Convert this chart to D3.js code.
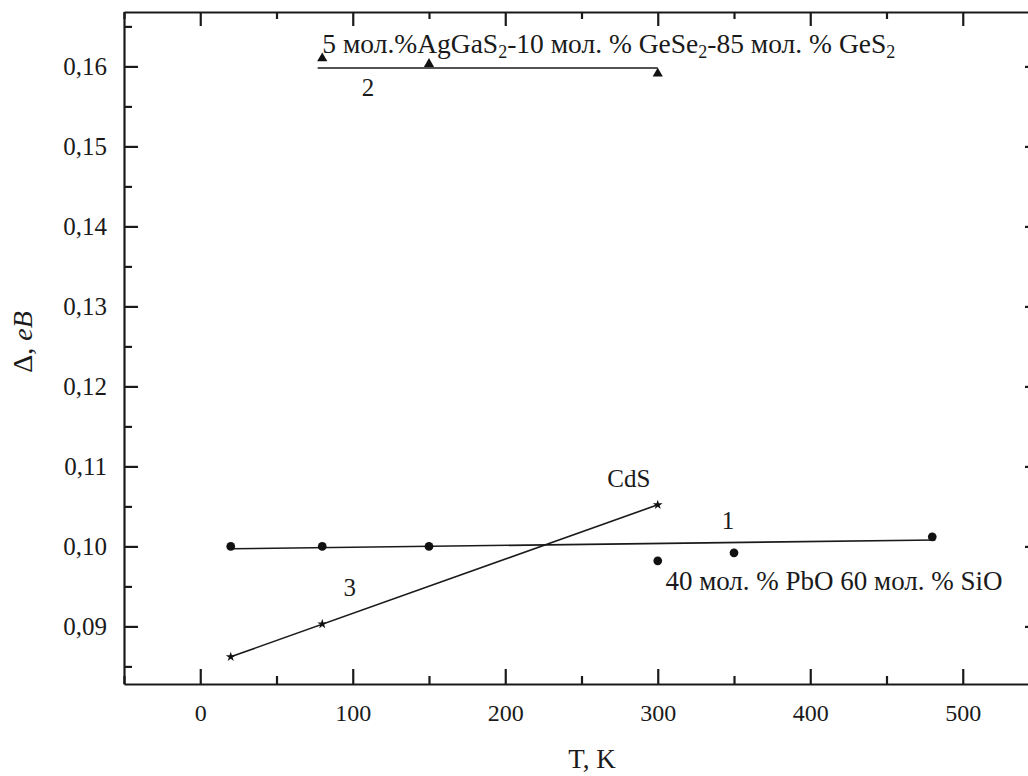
<!DOCTYPE html>
<html>
<head>
<meta charset="utf-8">
<script src="https://cdn.jsdelivr.net/npm/d3@7"></script>
<style>
  body { margin: 0; background: #fff; }
  text { font-family: "Liberation Serif", "Times New Roman", serif; fill: #1a1a1a; }
</style>
</head>
<body>
<div id="chartDiv"></div>
<script>
// curve 1: 40 mol.% PbO - 60 mol.% SiO (circles)
var s1T = [20, 80, 150, 300, 350, 480];
var s1V = [0.1000, 0.1000, 0.1000, 0.0982, 0.0992, 0.1012];
var fit1T = [20, 482];
var fit1V = [0.0997, 0.1008];

// curve 2: AgGaS2-GeSe2-GeS2 (triangles)
var s2T = [80, 150, 300];
var s2V = [0.1610, 0.1603, 0.1591];
var fit2T = [77, 300];
var fit2V = [0.1598, 0.1598];

// curve 3: CdS (stars)
var s3T = [20, 80, 300];
var s3V = [0.0862, 0.0903, 0.1052];
var fit3T = [20, 300];
var fit3V = [0.0862, 0.1052];

// ticks
var xTicks = [0, 100, 200, 300, 400, 500];
var xMinor = [-50, 50, 150, 250, 350, 450, 550];
var yTicks = [0.09, 0.10, 0.11, 0.12, 0.13, 0.14, 0.15, 0.16];
var yMinor = [0.085, 0.095, 0.105, 0.115, 0.125, 0.135, 0.145, 0.155, 0.165];

// annotations (placed in data coordinates)
var noteT = [110, 98, 346, 281];
var noteV = [0.15734, 0.09484, 0.10333, 0.10846];
var noteText = ["2", "3", "1", "CdS"];

var width = 1028, height = 776;
var mLeft = 124, mRight = 1039, mTop = 12, mBottom = 684;

var x = d3.scaleLinear().domain([-50, 550]).range([mLeft, mRight]);
var y = d3.scaleLinear().domain([0.0828, 0.1668]).range([mBottom, mTop]);

var svg = d3.select("#chartDiv")
            .append("svg")
            .attr("width", width)
            .attr("height", height);

var fmt = function(d) { return d3.format(".2f")(d).replace(".", ","); };

// bottom axis
svg.append("g").attr("transform", "translate(0," + mBottom + ")")
   .call(d3.axisBottom(x).tickValues(xTicks).tickSizeInner(-15).tickSizeOuter(0).tickPadding(20))
   .call(function(g) { g.selectAll("text").attr("font-size", 24).attr("fill", "#2a2a2a"); });
svg.append("g").attr("transform", "translate(0," + mBottom + ")")
   .call(d3.axisBottom(x).tickValues(xMinor).tickSize(-8).tickFormat(""))
   .call(function(g) { g.select(".domain").remove(); });

// top axis
svg.append("g").attr("transform", "translate(0," + mTop + ")")
   .call(d3.axisTop(x).tickValues(xTicks).tickSizeInner(-14).tickSizeOuter(0).tickFormat(""));
svg.append("g").attr("transform", "translate(0," + mTop + ")")
   .call(d3.axisTop(x).tickValues(xMinor).tickSize(-7).tickFormat(""))
   .call(function(g) { g.select(".domain").remove(); });

// left axis
svg.append("g").attr("transform", "translate(" + mLeft + ",0)")
   .call(d3.axisLeft(y).tickValues(yTicks).tickSizeInner(-14).tickSizeOuter(0).tickPadding(17).tickFormat(fmt))
   .call(function(g) { g.selectAll("text").attr("font-size", 25).attr("fill", "#2a2a2a"); });
svg.append("g").attr("transform", "translate(" + mLeft + ",0)")
   .call(d3.axisLeft(y).tickValues(yMinor).tickSize(-8).tickFormat(""))
   .call(function(g) { g.select(".domain").remove(); });

// right axis
svg.append("g").attr("transform", "translate(" + mRight + ",0)")
   .call(d3.axisRight(y).tickValues(yTicks).tickSizeInner(-14).tickSizeOuter(0).tickFormat(""));
svg.append("g").attr("transform", "translate(" + mRight + ",0)")
   .call(d3.axisRight(y).tickValues(yMinor).tickSize(-8).tickFormat(""))
   .call(function(g) { g.select(".domain").remove(); });

svg.selectAll(".domain").attr("stroke", "#1a1a1a").attr("stroke-width", 2.2);
svg.selectAll(".tick line").attr("stroke", "#1a1a1a").attr("stroke-width", 2.2);

// fit lines
var line = d3.line().x(function(d) { return x(d[0]); }).y(function(d) { return y(d[1]); });
[[fit1T, fit1V], [fit2T, fit2V], [fit3T, fit3V]].forEach(function(f) {
    svg.append("path")
       .datum(d3.zip(f[0], f[1]))
       .attr("d", line)
       .attr("fill", "none")
       .attr("stroke", "#1a1a1a")
       .attr("stroke-width", 1.6);
});

// markers
function drawMarkers(ts, vs, type, size) {
    svg.selectAll(null)
       .data(d3.zip(ts, vs))
       .enter()
       .append("path")
       .attr("transform", function(d) { return "translate(" + x(d[0]) + "," + y(d[1]) + ")"; })
       .attr("d", d3.symbol().type(type).size(size))
       .attr("fill", "#111");
}
drawMarkers(s1T, s1V, d3.symbolCircle, 60);
drawMarkers(s2T, s2V, d3.symbolTriangle, 45);
drawMarkers(s3T, s3V, d3.symbolStar, 30);

// curve numbers
svg.selectAll(null)
   .data(d3.zip(noteT, noteV, noteText))
   .enter()
   .append("text")
   .attr("x", function(d) { return x(d[0]); })
   .attr("y", function(d) { return y(d[1]); })
   .attr("text-anchor", "middle")
   .attr("dy", "0.35em")
   .attr("font-size", 25)
   .attr("fill", "#333")
   .text(function(d) { return d[2]; });

// composition labels
svg.append("text")
   .attr("x", x(305)).attr("y", y(0.09459))
   .attr("font-size", 27)
   .text("40 мол. % PbO 60 мол. % SiO");

var top2 = svg.append("text")
   .attr("x", x(80)).attr("y", y(0.16171))
   .attr("font-size", 27.5);
[["5 мол.%AgGaS", false], ["2", true], ["-10 мол. % GeSe", false], ["2", true],
 ["-85 мол. % GeS", false], ["2", true]].forEach(function(p, i) {
    var t = top2.append("tspan").text(p[0]);
    if (p[1]) t.attr("font-size", 18).attr("dy", 5);
    else if (i > 0) t.attr("dy", -5);
});

// axis titles
svg.append("text")
   .attr("x", 592)
   .attr("y", 768)
   .attr("text-anchor", "middle")
   .attr("font-size", 27)
   .text("T, K");

var yl = svg.append("text")
   .attr("transform", "translate(32,342) rotate(-90)")
   .attr("text-anchor", "middle")
   .attr("font-size", 28);
yl.append("tspan").text("Δ, ");
yl.append("tspan").attr("font-style", "italic").text("eB");
</script>
</body>
</html>
